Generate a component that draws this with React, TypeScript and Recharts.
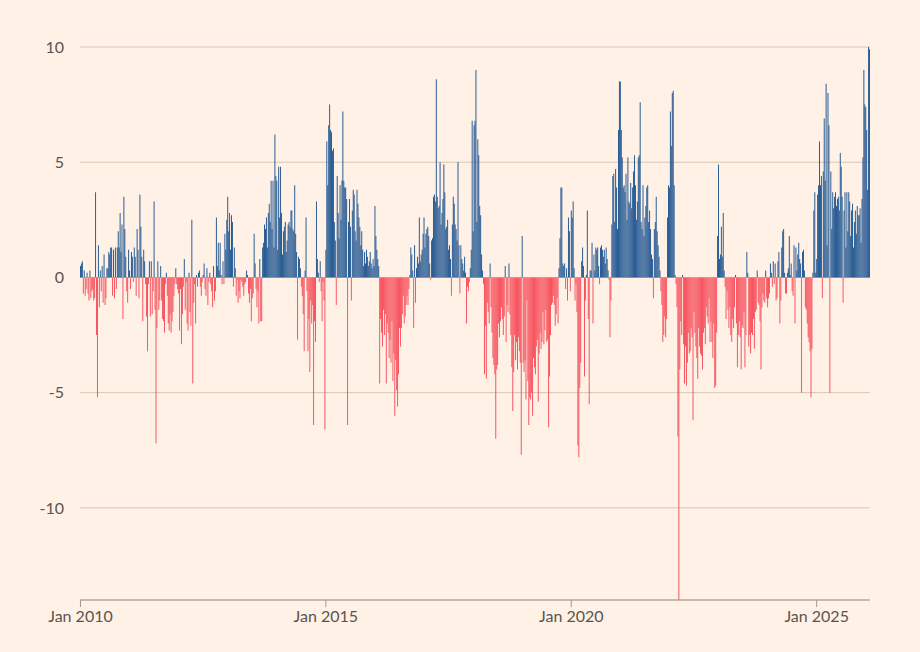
import { BarChart, Bar, XAxis, YAxis, CartesianGrid, Cell } from "recharts";

// Weekly values, one array per calendar year
const y2010 = [0.5,0.6,0.7,-0.7,0.3,-0.8,-0.5,0.2,-0.7,-1.0,0.3,-0.9,-0.6,-0.5,-1.0,-0.9,3.7,-2.5,-5.2,1.4,-1.3,0.3,-0.6,0.5,-1.1,1.0,-1.2,-0.9,0.4,0.4,1.1,1.0,1.3,1.3,-0.8,1.2,-0.9,1.3,-0.5,1.3,2.0,1.3,2.8,1.1,2.3,-1.8,3.5,2.1,0.9,-0.6,-1.1,1.2];
const y2011 = [0.3,-0.5,1.1,0.9,-0.2,1.3,0.9,-0.8,2.1,1.2,-0.9,3.6,2.2,0.9,-1.9,1.2,0.7,-0.3,-1.7,-3.2,-0.3,0.7,-1.7,0.7,-1.6,-0.6,3.3,-1.4,-7.2,-2.2,0.7,-1.4,-1.0,0.5,-1.0,-1.8,-1.9,-2.4,-0.3,0.2,-0.8,-2.0,-2.3,-1.6,-2.4,-1.9,-1.5,-0.8,-0.3,0.4,-0.3,-0.5];
const y2012 = [-0.7,-2.3,-0.5,-2.9,-1.6,-0.4,0.8,-1.4,-0.2,-2.0,-2.3,0.2,-1.5,-2.1,2.5,-4.6,-1.1,-0.3,-2.0,0.1,-0.4,0.2,0.3,-0.4,-0.8,-0.2,0.1,0.6,-0.5,-0.8,0.4,-1.2,-0.2,0.2,-0.3,-0.6,-1.3,0.5,-1.0,-0.6,2.6,0.5,1.5,0.3,1.5,0.1,-0.3,0.7,-0.3,1.9,1.2,2.5];
const y2013 = [3.5,2.0,2.8,1.2,2.7,2.4,-0.4,1.3,0.4,-0.8,-0.1,-1.1,-0.6,-0.9,-0.1,-0.2,-0.4,-0.8,-0.3,-0.2,0.3,0.1,-0.7,-1.1,-0.5,-1.9,-0.9,-0.7,1.9,0.6,-0.5,-1.3,-0.6,-2.0,0.8,-1.9,-1.9,1.3,1.5,2.3,2.1,2.6,1.3,2.8,3.2,2.4,4.2,2.1,4.2,1.3,6.2,4.4];
const y2014 = [4.2,1.2,4.8,2.6,4.8,2.8,1.0,2.0,2.2,2.4,1.1,1.6,2.3,2.4,2.2,2.9,2.9,2.1,2.0,4.0,1.9,1.1,-2.7,0.9,0.8,0.4,-0.4,-0.8,-1.6,-3.2,0.3,2.6,-0.6,-3.2,-1.8,-4.1,-1.0,-2.0,-1.2,-6.4,-1.9,-2.8,3.3,0.8,0.2,-0.2,0.7,-0.6,-1.9,-0.2,-1.0,-6.6];
const y2015 = [1.2,5.9,4.0,6.6,7.5,6.4,6.3,5.5,5.6,2.4,1.6,-1.2,4.4,2.8,1.7,4.0,2.5,4.2,7.2,4.2,3.9,3.9,3.4,-6.4,2.4,3.4,2.2,-1.0,2.9,3.8,3.6,2.0,1.6,3.8,3.2,2.6,2.2,1.4,2.0,1.2,0.5,1.1,0.6,1.2,0.9,0.5,0.7,1.1,0.6,0.4,0.8,0.5];
const y2016 = [3.1,1.8,1.2,0.8,0.5,-4.6,-1.8,-2.4,-3.0,-1.4,-2.5,-1.6,-4.6,-2.0,-2.4,-3.5,-2.7,-3.7,-1.9,-4.5,-3.3,-6.0,-3.6,-4.9,-5.6,-4.2,-2.2,-3.0,-2.2,-1.6,-0.8,-2.0,-1.7,-1.2,-0.8,-1.2,-0.5,0.1,1.3,1.0,0.3,-2.2,1.4,-1.1,0.4,0.9,0.6,2.6,0.7,1.0,1.2,1.9];
const y2017 = [2.6,1.3,1.9,2.1,2.2,1.8,0.6,-0.1,1.6,1.7,3.5,3.6,3.3,8.6,3.5,3.0,3.1,5.0,2.3,2.8,3.4,4.9,3.7,2.1,2.2,2.5,1.2,1.4,0.8,-0.8,2.3,3.5,3.2,2.3,2.1,1.6,5.0,1.4,-0.7,1.4,0.8,0.6,0.3,0.9,0.2,-2.0,-0.4,-0.6,-0.2,0.4,1.2,6.8];
const y2018 = [2.0,6.6,6.8,9.0,2.4,6.0,5.3,3.1,2.7,1.0,0.3,-0.3,-4.2,-2.1,-4.4,-1.1,-1.5,-2.0,0.6,-1.3,-2.4,-3.5,-3.8,-4.2,-7.0,-4.0,-3.8,-2.0,-2.6,-1.9,-1.3,-1.8,-2.5,-1.7,0.5,-2.8,-1.2,-1.5,0.6,-1.6,-2.5,-3.9,-5.8,-4.1,-2.5,-3.6,-2.8,-4.0,-2.6,-3.2,-3.7,-7.7];
const y2019 = [1.8,-3.7,-4.1,-3.6,-5.3,-1.0,-4.5,-6.4,-5.2,-5.3,-5.0,-6.0,-3.5,-3.9,-4.2,-3.0,-2.7,-5.4,-3.3,-2.4,-3.1,-2.8,-1.5,-2.9,-2.3,-1.4,-2.8,-2.7,-6.5,-4.3,-2.5,-1.2,-1.1,-0.8,-1.2,-2.1,-1.6,-0.9,-2.0,0.4,1.7,3.9,3.9,0.6,0.5,0.6,-0.5,0.4,-1.0,2.6,2.0,-0.6];
const y2020 = [2.9,2.6,3.3,0.4,-1.0,-0.3,-1.5,-7.3,-7.8,-4.8,-3.7,0.7,1.3,0.5,-4.3,-1.0,0.1,2.9,-1.8,-5.5,0.3,0.3,1.5,-2.0,1.0,0.3,1.3,1.2,1.3,0.5,-0.3,1.3,1.4,1.2,0.9,1.2,0.6,1.3,0.8,0.3,-0.1,-2.6,-1.0,2.3,4.4,4.5,2.4,4.7,3.9,2.1,6.4,8.5];
const y2021 = [8.5,6.4,5.2,3.9,4.0,3.7,4.5,2.5,5.2,3.3,3.2,4.1,3.0,3.9,4.6,5.3,4.0,2.5,3.3,5.2,5.3,7.6,2.4,2.1,4.0,1.8,2.6,3.1,3.9,4.0,2.4,2.9,2.1,1.0,0.8,-0.9,2.1,2.4,3.5,2.0,1.4,0.9,0.3,-0.6,-1.2,-2.8,-2.5,-1.7,-2.6,-1.8,2.6,4.0];
const y2022 = [3.9,7.2,5.7,8.0,8.1,4.0,0.1,-0.3,-1.3,-6.9,-14,-4.0,-1.9,-2.5,0.1,-2.9,-4.6,-3.0,-4.7,-3.7,-2.4,-3.3,-3.2,-2.2,-2.6,-6.2,-1.5,-2.4,-3.0,-3.5,-4.4,-2.2,-3.0,-3.3,-3.4,-4.0,-2.4,-2.2,-2.9,-1.3,-1.7,-2.0,-0.9,-2.8,-1.9,-2.8,-3.5,-2.0,-4.8,-4.7,-2.4,1.8];
const y2023 = [4.9,0.8,1.0,2.2,0.9,2.8,0.3,-0.4,-1.8,-0.6,-1.4,-2.2,-1.3,-2.5,-2.8,-1.8,-2.2,-1.3,0.1,-2.0,-3.9,-2.5,-1.9,-2.6,-4.0,-2.1,-2.2,-1.5,-3.9,-2.5,1.1,0.2,-3.0,-2.5,-3.3,-2.4,-2.5,-1.8,-3.1,-1.5,-1.4,0.3,-1.1,-1.2,-1.9,-4.0,-1.3,-0.7,-1.0,-1.1,0.3,-0.9];
const y2024 = [-1.3,-0.9,-0.7,0.6,0.2,-0.4,0.7,-0.3,0.6,-1.0,-0.9,0.7,1.1,-2.0,-1.0,1.3,2.0,2.1,0.2,-0.7,-0.7,0.2,0.4,1.8,0.1,0.6,-0.6,-0.8,1.4,-2.0,1.3,0.3,1.0,1.5,0.8,0.6,-5.0,1.1,1.2,0.3,-1.3,-1.4,-2.0,-2.6,-2.8,-3.2,-5.2,-3.1,0.2,2.9,3.7,0.2];
const y2025 = [0.8,3.6,4.0,5.9,4.0,4.4,-0.9,4.6,6.9,4.2,8.4,1.4,8.0,6.6,-5.0,4.6,2.1,3.7,3.0,3.5,3.7,3.1,3.4,3.5,2.9,5.4,4.8,3.5,-1.1,2.9,3.7,1.3,3.7,2.0,3.7,3.3,1.8,2.9,3.2,1.3,2.4,2.9,1.9,3.1,2.7,2.7,3.0,1.5,3.4,5.2,9.0,7.5];
const y2026 = [7.4,6.4,3.8,10.1,9.9];

const years = [2010,2011,2012,2013,2014,2015,2016,2017,2018,2019,2020,2021,2022,2023,2024,2025,2026];
const series = [y2010,y2011,y2012,y2013,y2014,y2015,y2016,y2017,y2018,y2019,y2020,y2021,y2022,y2023,y2024,y2025,y2026];
const labelYears = [2010, 2015, 2020, 2025];
const yTicks = [-10, -5, 0, 5, 10];

const BLUE = "#1f5591";
const RED = "#f64e5a";
const FONT = "Lato, 'Noto Sans', sans-serif";

const data = years.flatMap((yr, yi) =>
  series[yi].map((v, i) => ({ key: `${yr}-${i}`, v }))
);

export default function App() {
  return (
    <div style={{ position: "absolute", left: 0, top: 0, width: 920, height: 652, background: "#fff1e5" }}>
      <BarChart
        width={920}
        height={652}
        data={data}
        margin={{ top: 47, right: 50, bottom: 22, left: 0 }}
        barCategoryGap={0}
      >
        <CartesianGrid vertical={false} stroke="#d9c5b6" strokeWidth={1} />
        <XAxis
          dataKey="key"
          ticks={labelYears.map((y) => `${y}-0`)}
          interval={0}
          tickFormatter={(k: string) => `Jan ${k.split("-")[0]}`}
          tick={{ fontSize: 16, fill: "#5a5450", fontFamily: FONT }}
          axisLine={{ stroke: "#a09893" }}
          tickLine={{ stroke: "#a09893" }}
          tickSize={7}
          tickMargin={4}
          height={30}
        />
        <YAxis
          domain={[-14, 10]}
          ticks={yTicks}
          allowDataOverflow
          width={80}
          axisLine={false}
          tickLine={false}
          tickSize={0}
          tickMargin={16}
          tick={{ fontSize: 16, fill: "#5a5450", fontFamily: FONT }}
        />
        <Bar dataKey="v" isAnimationActive={false}>
          {data.map((d) => (
            <Cell key={d.key} fill={d.v >= 0 ? BLUE : RED} />
          ))}
        </Bar>
      </BarChart>
    </div>
  );
}
